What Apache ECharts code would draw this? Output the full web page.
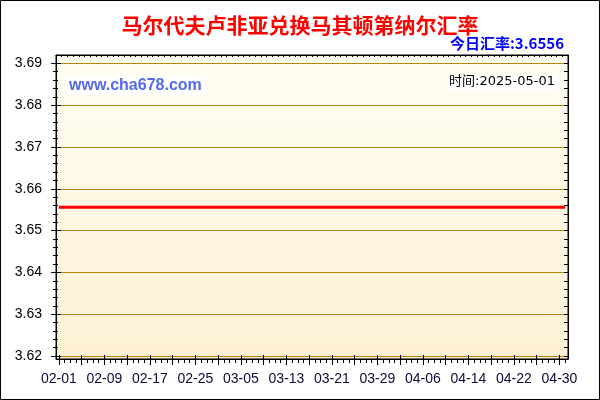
<!DOCTYPE html>
<html>
<head>
<meta charset="utf-8">
<script src="https://cdn.jsdelivr.net/npm/echarts@6/dist/echarts.min.js"></script>
<style>
html,body{margin:0;padding:0;background:#fff;}
#c{width:600px;height:400px;}
</style>
</head>
<body>
<div id="c"></div>
<script>
// ---- data ----
const dates = [
 '02-01','02-02','02-03','02-04','02-05','02-06','02-07','02-08','02-09','02-10',
 '02-11','02-12','02-13','02-14','02-15','02-16','02-17','02-18','02-19','02-20',
 '02-21','02-22','02-23','02-24','02-25','02-26','02-27','02-28',
 '03-01','03-02','03-03','03-04','03-05','03-06','03-07','03-08','03-09','03-10',
 '03-11','03-12','03-13','03-14','03-15','03-16','03-17','03-18','03-19','03-20',
 '03-21','03-22','03-23','03-24','03-25','03-26','03-27','03-28','03-29','03-30','03-31',
 '04-01','04-02','04-03','04-04','04-05','04-06','04-07','04-08','04-09','04-10',
 '04-11','04-12','04-13','04-14','04-15','04-16','04-17','04-18','04-19','04-20',
 '04-21','04-22','04-23','04-24','04-25','04-26','04-27','04-28','04-29','04-30',
 '05-01'
];
const rates = [
 3.6556,3.6556,3.6556,3.6556,3.6556,3.6556,3.6556,3.6556,3.6556,3.6556,
 3.6556,3.6556,3.6556,3.6556,3.6556,3.6556,3.6556,3.6556,3.6556,3.6556,
 3.6556,3.6556,3.6556,3.6556,3.6556,3.6556,3.6556,3.6556,
 3.6556,3.6556,3.6556,3.6556,3.6556,3.6556,3.6556,3.6556,3.6556,3.6556,
 3.6556,3.6556,3.6556,3.6556,3.6556,3.6556,3.6556,3.6556,3.6556,3.6556,
 3.6556,3.6556,3.6556,3.6556,3.6556,3.6556,3.6556,3.6556,3.6556,3.6556,3.6556,
 3.6556,3.6556,3.6556,3.6556,3.6556,3.6556,3.6556,3.6556,3.6556,3.6556,
 3.6556,3.6556,3.6556,3.6556,3.6556,3.6556,3.6556,3.6556,3.6556,3.6556,
 3.6556,3.6556,3.6556,3.6556,3.6556,3.6556,3.6556,3.6556,3.6556,3.6556,
 3.6556
];
const yMajorTicks = [3.62,3.63,3.64,3.65,3.66,3.67,3.68,3.69];
const yMinorTicks = [3.62,3.622,3.624,3.626,3.628,3.63,3.632,3.634,3.636,3.638,
 3.64,3.642,3.644,3.646,3.648,3.65,3.652,3.654,3.656,3.658,
 3.66,3.662,3.664,3.666,3.668,3.67,3.672,3.674,3.676,3.678,
 3.68,3.682,3.684,3.686,3.688,3.69];
const yMin = 3.6193, yMax = 3.692;
const titleText = '马尔代夫卢非亚兑换马其顿第纳尔汇率';
const todayText = '今日汇率:3.6556';
const siteText = 'www.cha678.com';
const timeText = '时间:2025-05-01';

// ---- chart ----
const chart = echarts.init(document.getElementById('c'), null, {renderer:'canvas'});
const G = {left:56, right:32, top:55, bottom:41};
const black = {color:'#000', width:1};
const latin = '"Liberation Sans", Arial, sans-serif';
function gridCfg(show){
  return Object.assign({show:show, containLabel:false}, G, show ? {
    backgroundColor:{type:'linear',x:0,y:0,x2:0,y2:1,colorStops:[{offset:0,color:'#FFFEF3'},{offset:1,color:'#FDF0D4'}]},
    borderColor:'#000', borderWidth:1
  } : {});
}
function xCat(gi, pos, tick, extra){
  return Object.assign({type:'category', gridIndex:gi, position:pos, data:dates, boundaryGap:true,
    axisLine:{show:false}, axisTick:tick, axisLabel:{show:false}, splitLine:{show:false}}, extra||{});
}
function yVal(gi, pos, tick, extra){
  return Object.assign({type:'value', gridIndex:gi, position:pos, min:yMin, max:yMax, splitNumber:7,
    axisLine:{show:false}, axisTick:tick, axisLabel:{show:false}, splitLine:{show:false}}, extra||{});
}
const every4 = (i) => i % 4 === 0;
const every8 = (i) => i % 8 === 0;

chart.setOption({
  animation:false,
  title:{text:titleText, left:'center', top:10,
    textStyle:{color:'#FF0000', fontSize:21, fontWeight:'bold', fontFamily:'"Noto Sans CJK SC", sans-serif'}},
  grid:[gridCfg(true), gridCfg(false), gridCfg(false), gridCfg(false)],
  xAxis:[
    xCat(0,'bottom',{show:true, alignWithLabel:true, interval:every4, length:6, lineStyle:black},
      {axisLine:{show:true, lineStyle:black},
       axisLabel:{show:true, interval:every8, fontSize:14, color:'#0b0b3b', margin:13, fontFamily:latin}}),
    xCat(0,'top',{show:true, inside:true, interval:0, length:2, lineStyle:black},
      {axisLine:{show:true, lineStyle:black}}),
    xCat(1,'bottom',{show:true, alignWithLabel:true, interval:0, length:4, lineStyle:black}),
    xCat(2,'bottom',{show:true, alignWithLabel:true, inside:true, interval:every4, length:4, lineStyle:black}),
    xCat(3,'bottom',{show:false})
  ],
  yAxis:[
    yVal(0,'left',{show:true, customValues:yMajorTicks, length:5, lineStyle:black},
      {axisLine:{show:true, lineStyle:black},
       axisLabel:{show:true, customValues:yMajorTicks, fontSize:14, color:'#000', margin:14, fontFamily:latin,
         formatter:(v)=>v.toFixed(2)},
       splitLine:{show:true, lineStyle:{color:'#B8860B', width:1.2}}}),
    yVal(0,'right',{show:true, customValues:yMinorTicks, inside:true, length:4, lineStyle:black},
      {axisLine:{show:true, lineStyle:black}}),
    yVal(1,'left',{show:true, customValues:yMinorTicks, length:3, lineStyle:black}),
    yVal(2,'left',{show:true, customValues:yMajorTicks, inside:true, length:5, lineStyle:black}),
    yVal(3,'left',{show:true, customValues:yMinorTicks, inside:true, length:2, lineStyle:black})
  ],
  series:[{
    type:'line', xAxisIndex:0, yAxisIndex:0, data:rates, symbol:'none',
    lineStyle:{color:'#FF0000', width:3}, z:5
  }],
  graphic:[
    {type:'rect', z:100, silent:true, shape:{x:0.5,y:0.5,width:599,height:399},
      style:{fill:'none', stroke:'#000', lineWidth:1}},
    {type:'text', z:100, silent:true, style:{text:todayText, x:564, y:43, align:'right', verticalAlign:'middle',
      font:'bold 15px "Noto Sans CJK SC", sans-serif', fill:'#0000FF'}},
    {type:'rect', z:50, silent:true, shape:{x:66,y:77,width:139,height:18}, style:{fill:'#FFFFFF'}},
    {type:'text', z:51, silent:true, style:{text:siteText, x:69, y:86, align:'left', verticalAlign:'middle',
      font:'bold 16px "Liberation Sans", Arial, sans-serif', fill:'#5468F0'}},
    {type:'text', z:51, silent:true, style:{text:timeText, x:557, y:82, align:'right', verticalAlign:'middle',
      font:'13px "DejaVu Sans", "Noto Sans CJK SC", sans-serif', fill:'#000', backgroundColor:'#FFFFFF', padding:[1,2,1,2]}}
  ]
});
</script>
</body>
</html>
